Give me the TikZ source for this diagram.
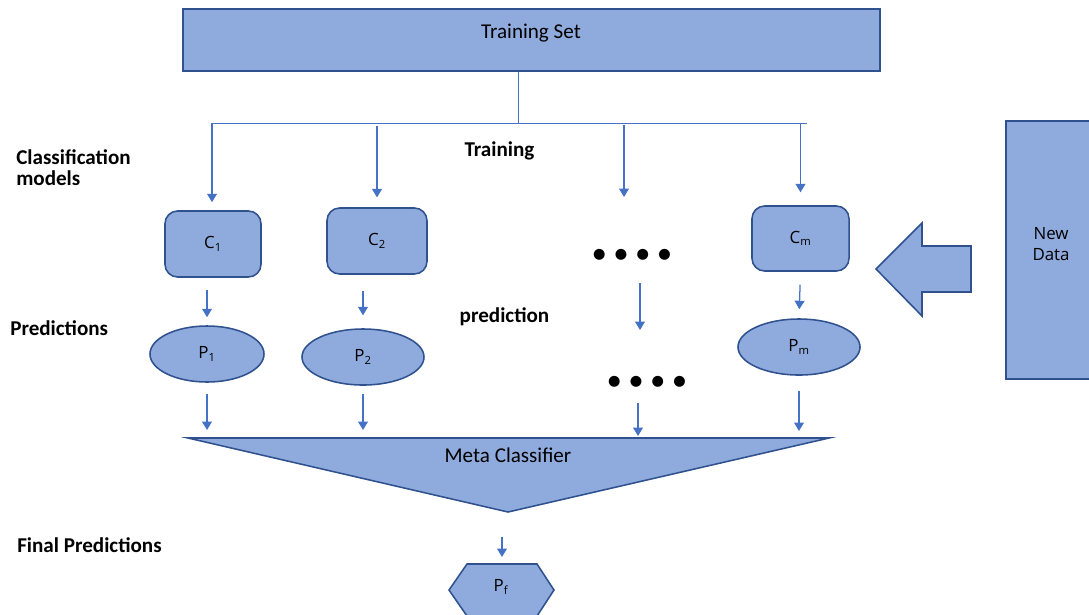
\documentclass[tikz,border=0pt]{standalone}
\usepackage{fontspec}
\setmainfont{Carlito}
\newfontfamily\shapefont{Open Sans}
\usetikzlibrary{arrows.meta, positioning, shapes.geometric}
\definecolor{boxfill}{HTML}{8FAADC}
\definecolor{boxline}{HTML}{2F528F}
\definecolor{flowblue}{HTML}{4472C4}
\tikzstyle{block}=[draw=boxline, fill=boxfill, line width=1.1pt]
\tikzstyle{model}=[block, rectangle, rounded corners=9pt, inner sep=0pt, font=\shapefont\fontsize{12}{14}\selectfont]
\tikzstyle{pred}=[block, ellipse, inner sep=0pt, minimum height=1.4cm, font=\shapefont\fontsize{12}{14}\selectfont]
\tikzstyle{flowline}=[color=flowblue, line width=0.7pt]
\tikzset{flow/.style={flowline, line width=0.9pt, >={Triangle[width=7pt,length=6pt]}, ->}}
\tikzstyle{rowlabel}=[anchor=west, align=left, inner sep=0pt, font=\bfseries\fontsize{15}{15}\selectfont]
\tikzstyle{dotrow}=[inner sep=0pt, font=\fontsize{22}{22}\selectfont]
\newcommand{\fourdots}{\textbullet\hspace{4.5pt}\textbullet\hspace{4.5pt}\textbullet\hspace{4.5pt}\textbullet}

\begin{document}
\begin{tikzpicture}[x=0.025cm, y=-0.025cm]
  \useasboundingbox (0,0) rectangle (1089,614);

  % training set and its bus
  \node[block, minimum width=17.425cm, minimum height=1.55cm] (train) at (531.5,40) {};
  \node[font=\fontsize{15}{18}\selectfont] (trainText) at (531,33) {Training Set};
  \coordinate (hub) at (518,123);
  \coordinate (busL) at (212,123);
  \coordinate (busR) at (807,123);
  \draw[flowline] (hub |- train.south) -- (hub);
  \draw[flowline] (busL) -- (busR);

  % row labels
  \node[rowlabel] (lclass) at (16,168) {Classification\\models};
  \node[rowlabel] (lpred) at (10,328) {Predictions};
  \node[rowlabel] (lfinal) at (17,545) {Final Predictions};
  \node[rowlabel, anchor=center] (ltrain) at (499.5,151) {Training};
  \node[rowlabel, anchor=center] (lpredict) at (504.5,317) {prediction};

  % classifiers
  \node[model, minimum width=2.4cm, minimum height=1.65cm] (C1) at (213,244) {C\textsubscript{1}};
  \node[model, minimum width=2.5cm, minimum height=1.65cm] (C2) at (377,241) {C\textsubscript{2}};
  \node[model, minimum width=2.425cm, minimum height=1.625cm] (Cm) at (800.5,238.5) {C\textsubscript{m}};
  \node[dotrow] (dotsA) at (632,256) {\fourdots};

  % predictions
  \node[pred, minimum width=2.85cm] (P1) at (207,354) {P\textsubscript{1}};
  \node[pred, minimum width=3.05cm] (P2) at (363,357) {P\textsubscript{2}};
  \node[pred, minimum width=3.05cm] (Pm) at (799,347) {P\textsubscript{m}};
  \node[dotrow] (dotsB) at (647,383) {\fourdots};

  % new data
  \node[block, minimum width=2.2cm, minimum height=6.45cm] (new) at (1050,250) {};
  \node[align=center, font=\shapefont\fontsize{12}{15}\selectfont] (newText) at (1051,244) {New\\Data};
  \draw[block] (876,269) -- (922,223) -- (922,246) -- (971,246) -- (971,292) -- (922,292) -- (922,316) -- cycle;

  % meta classifier
  \coordinate (metaL) at (188,438);
  \coordinate (metaR) at (829,438);
  \coordinate (metaB) at (508,512);
  \draw[block] (metaL) -- (metaR) -- (metaB) -- cycle;
  \node[font=\fontsize{15}{18}\selectfont] (meta) at (508,455) {Meta Classifier};

  % final prediction
  \coordinate (pfTop) at (502,564);
  \draw[block] (449,590) -- (467,564) -- (537,564) -- (554,590) -- (537,616) -- (467,616) -- cycle;
  \node[font=\shapefont\fontsize{12}{14}\selectfont] (Pf) at (501,587) {P\textsubscript{f}};

  % free ends in the dotted column
  \coordinate (gapA) at (624,197);
  \coordinate (gapB) at (640,283);
  \coordinate (gapC) at (640,330);
  \coordinate (gapD) at (638,403);
  \coordinate (gapE) at (638,436);

  % training arrows
  \path[flow] (busL) edge[shorten >=5.7pt] (busL |- C1.north);
  \path[flow] (C2.north |- busL) edge[shorten <=2pt, shorten >=7pt] (C2.north);
  \path[flow] (gapA |- busL) edge[shorten <=1.4pt] (gapA);
  \path[flow] (Cm.north |- busL) edge[shorten >=9.2pt] (Cm.north);

  % prediction arrows
  \path[flow] (C1.south -| P1) edge[shorten <=8.5pt, shorten >=5.7pt] (P1.north);
  \path[flow] (C2.south -| P2) edge[shorten <=11.3pt, shorten >=9.2pt] (P2.north);
  \path[flow] (gapB) edge (gapC);
  \path[flow] (Cm.south) edge[shorten <=9.2pt, shorten >=6.4pt] (Pm.north);

  % into the meta classifier
  \path[flow] (P1.south) edge[shorten <=7.8pt, shorten >=5.7pt] (P1.south |- metaL);
  \path[flow] (P2.south) edge[shorten <=5.7pt, shorten >=5.7pt] (P2.south |- metaL);
  \path[flow] (gapD) edge (gapE);
  \path[flow] (Pm.south) edge[shorten <=10.6pt, shorten >=5pt] (Pm.south |- metaL);
  \path[flow] (metaB -| pfTop) edge[shorten <=17.7pt, shorten >=5pt] (pfTop);
\end{tikzpicture}
\end{document}
